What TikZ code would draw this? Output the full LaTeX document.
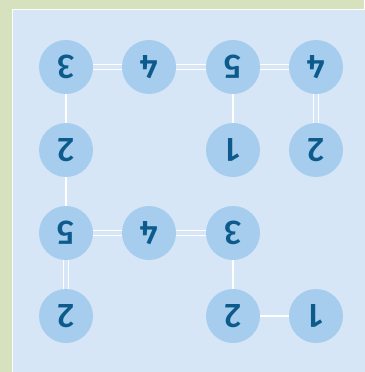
\documentclass[tikz,border=0pt]{standalone}
\usepackage{fontspec}
\setsansfont{Fira Sans}[UprightFont=* Medium]
\usepackage{xcolor}
\definecolor{Leaf}{HTML}{D5E2BD}
\definecolor{Sky}{HTML}{D6E6F7}
\definecolor{Isle}{HTML}{A6CDEE}
\definecolor{Ink}{HTML}{0D5B8C}

\begin{document}
\begin{tikzpicture}[x=0.03cm,y=-0.03cm,
    isle/.style={circle,fill=Isle,minimum size=1.62cm,inner sep=0pt,
      text=Ink,font=\sffamily\fontsize{29}{29}\selectfont,rotate=180},
    bridge/.style={draw=white,line width=1.4pt},
    dbridge/.style={draw=white,line width=1.2pt,double=Sky,double distance=2.6pt}]
    \useasboundingbox (0,0) rectangle (364,372);
    \fill[Leaf] (0,0) rectangle (364,372);
    \filldraw[fill=Sky,draw=white,line width=0.8pt] (12.5,9.5) rectangle (380,390);
    % islands
    \node[isle] (a1) at (66,67) {3};
    \node[isle] (a2) at (149,67) {4};
    \node[isle] (a3) at (233,67) {5};
    \node[isle] (a4) at (316,67) {4};
    \node[isle] (b1) at (66,150) {2};
    \node[isle] (b3) at (233,150) {1};
    \node[isle] (b4) at (316,150) {2};
    \node[isle] (c1) at (66,233) {5};
    \node[isle] (c2) at (149,233) {4};
    \node[isle] (c3) at (233,233) {3};
    \node[isle] (d1) at (66,316) {2};
    \node[isle] (d3) at (233,316) {2};
    \node[isle] (d4) at (316,316) {1};
    % bridges
    \draw[dbridge] (a1) -- (a2);
    \draw[dbridge] (a2) -- (a3);
    \draw[dbridge] (a3) -- (a4);
    \draw[dbridge] (a4) -- (b4);
    \draw[bridge] (a1) -- (b1);
    \draw[bridge] (b1) -- (c1);
    \draw[dbridge] (c1) -- (d1);
    \draw[bridge] (a3) -- (b3);
    \draw[dbridge] (c1) -- (c2);
    \draw[dbridge] (c2) -- (c3);
    \draw[bridge] (c3) -- (d3);
    \draw[bridge] (d3) -- (d4);
  \end{tikzpicture}
\end{document}
